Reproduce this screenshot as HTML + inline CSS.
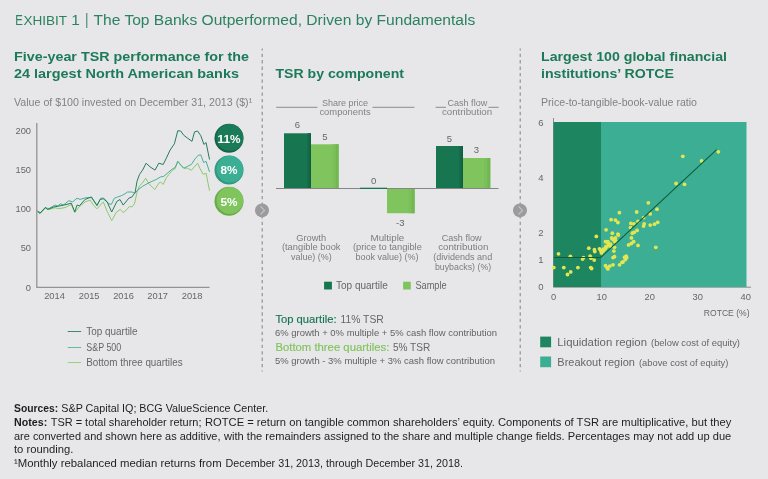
<!DOCTYPE html><html><head><meta charset="utf-8"><title>Exhibit 1</title>
<style>html,body{margin:0;padding:0;background:#e7e7e9}svg{display:block}text{font-family:"Liberation Sans",sans-serif}</style></head><body>
<svg width="768" height="479" viewBox="0 0 768 479">
<rect width="768" height="479" fill="#e7e7e9"/>
<text y="25.2" fill="#2b8260" font-size="14.7"><tspan x="15.2" font-size="14.7" textLength="7.6" lengthAdjust="spacingAndGlyphs">E</tspan><tspan x="23.4" font-size="12.9" textLength="43.6" lengthAdjust="spacingAndGlyphs">XHIBIT</tspan> <tspan x="71.3" font-size="14.9" textLength="8.6" lengthAdjust="spacingAndGlyphs">1</tspan> <tspan x="85.2" y="24.6" font-size="17.4" textLength="3.1" lengthAdjust="spacingAndGlyphs">|</tspan> <tspan x="93.5" y="25.2" textLength="381.8" lengthAdjust="spacingAndGlyphs">The Top Banks Outperformed, Driven by Fundamentals</tspan></text>
<text x="14" y="61.1" font-size="13.7" fill="#1c7a57" font-weight="bold" textLength="235" lengthAdjust="spacingAndGlyphs">Five-year TSR performance for the</text>
<text x="14" y="78.3" font-size="13.7" fill="#1c7a57" font-weight="bold" textLength="225" lengthAdjust="spacingAndGlyphs">24 largest North American banks</text>
<text x="14" y="105.6" font-size="10.6" fill="#828282" textLength="238.2" lengthAdjust="spacingAndGlyphs">Value of $100 invested on December 31, 2013 ($)¹</text>
<path d="M36.8 123 V287.3 H209.5" fill="none" stroke="#939393" stroke-width="1.3"/>
<text x="31" y="134.4" font-size="9.3" fill="#666666" text-anchor="end">200</text>
<text x="31" y="173.4" font-size="9.3" fill="#666666" text-anchor="end">150</text>
<text x="31" y="212.4" font-size="9.3" fill="#666666" text-anchor="end">100</text>
<text x="31" y="251.4" font-size="9.3" fill="#666666" text-anchor="end">50</text>
<text x="31" y="291.09999999999997" font-size="9.3" fill="#666666" text-anchor="end">0</text>
<text x="54.5" y="299.3" font-size="9.3" fill="#666666" text-anchor="middle">2014</text>
<text x="89.2" y="299.3" font-size="9.3" fill="#666666" text-anchor="middle">2015</text>
<text x="123.5" y="299.3" font-size="9.3" fill="#666666" text-anchor="middle">2016</text>
<text x="157.7" y="299.3" font-size="9.3" fill="#666666" text-anchor="middle">2017</text>
<text x="192.1" y="299.3" font-size="9.3" fill="#666666" text-anchor="middle">2018</text>
<path d="M37.5 211.3 L40.0 213.8 L45.4 208.2 L48.8 209.5 L55.1 207.8 L58.8 208.6 L65.1 207.6 L71.3 204.4 L74.8 212.6 L78.9 207.0 L85.1 201.9 L90.1 200.1 L93.9 205.7 L97.0 208.8 L103.3 201.9 L107.1 211.3 L111.7 220.7 L116.5 212.0 L120.2 209.5 L123.3 212.6 L126.9 209.5 L129.4 206.4 L131.9 207.0 L134.4 203.9 L137.0 192.6 L139.5 185.7 L142.6 182.8 L145.7 178.2 L148.9 183.8 L154.8 189.5 L158.8 183.2 L160.7 182.0 L163.2 184.5 L166.3 177.6 L172.6 170.1 L175.1 168.8 L177.8 161.5 L180.7 165.0 L183.8 168.2 L187.6 168.2 L191.4 170.3 L197.6 163.2 L200.1 168.8 L203.3 174.4 L206.1 173.2 L209.5 190.7" fill="none" stroke="#8cc96c" stroke-width="1" stroke-linejoin="round"/>
<path d="M37.5 211.3 L40.6 212.6 L45.4 207.8 L48.8 208.6 L55.1 205.1 L58.2 206.1 L60.1 203.8 L63.8 204.8 L68.8 200.7 L72.6 201.9 L77.0 198.2 L80.1 199.4 L86.4 197.6 L91.4 197.6 L97.0 205.1 L100.8 198.2 L103.9 198.2 L108.9 203.8 L111.4 204.4 L114.4 198.2 L117.5 197.0 L121.3 195.7 L123.8 194.5 L127.6 192.0 L131.9 192.0 L135.1 193.2 L137.6 190.1 L142.6 186.3 L148.9 182.8 L156.3 179.4 L160.7 176.9 L163.8 176.3 L172.6 168.8 L175.1 167.5 L177.8 161.3 L180.7 165.0 L183.8 168.2 L187.6 166.3 L191.4 164.4 L195.1 158.8 L198.2 155.3 L200.8 154.8 L203.6 162.5 L206.1 161.3 L209.5 171.9" fill="none" stroke="#45b098" stroke-width="1" stroke-linejoin="round"/>
<path d="M37.5 211.3 L40.0 213.2 L45.4 207.3 L47.5 209.5 L53.8 207.0 L57.6 206.3 L63.8 205.1 L71.3 203.2 L74.8 212.0 L77.0 205.1 L79.5 205.7 L85.1 199.4 L91.4 196.9 L97.0 205.7 L100.2 199.4 L103.3 198.8 L107.1 201.9 L111.7 212.0 L116.9 201.4 L120.0 199.5 L123.2 205.1 L128.8 198.2 L131.9 197.0 L135.1 192.6 L137.0 181.3 L139.5 174.4 L142.6 170.1 L146.1 163.2 L150.1 166.9 L155.0 170.1 L158.8 163.2 L163.2 164.5 L166.3 158.2 L170.1 150.1 L174.4 143.8 L177.8 130.7 L180.7 131.0 L183.6 135.1 L187.6 138.2 L192.0 141.3 L194.5 131.9 L197.6 131.0 L200.8 135.7 L203.9 144.4 L206.1 142.6 L209.5 159.5" fill="none" stroke="#257d5b" stroke-width="1" stroke-linejoin="round"/>
<circle cx="229" cy="138.3" r="14.5" fill="#136447"/>
<circle cx="229.9" cy="137.4" r="13.4" fill="#1b7b58"/>
<text x="229" y="142.5" font-size="11.8" fill="#ffffff" text-anchor="middle" font-weight="bold">11%</text>
<circle cx="229" cy="170.1" r="14.5" fill="#2e9880"/>
<circle cx="229.9" cy="169.2" r="13.4" fill="#3bae93"/>
<text x="229" y="174.29999999999998" font-size="11.8" fill="#ffffff" text-anchor="middle" font-weight="bold">8%</text>
<circle cx="229" cy="201.3" r="14.5" fill="#68ab4b"/>
<circle cx="229.9" cy="200.4" r="13.4" fill="#80c45e"/>
<text x="229" y="205.5" font-size="11.8" fill="#ffffff" text-anchor="middle" font-weight="bold">5%</text>
<path d="M67.7 331.5 H81.2" stroke="#3f8a6c" stroke-width="1"/>
<text x="86.3" y="334.8" font-size="10" fill="#666666" textLength="51.3" lengthAdjust="spacingAndGlyphs">Top quartile</text>
<path d="M67.7 347.5 H81.2" stroke="#62bba6" stroke-width="1"/>
<text x="86.3" y="350.8" font-size="10" fill="#666666" textLength="34.9" lengthAdjust="spacingAndGlyphs">S&amp;P 500</text>
<path d="M67.7 362.5 H81.2" stroke="#9bd07f" stroke-width="1"/>
<text x="86.3" y="365.8" font-size="10" fill="#666666" textLength="96.3" lengthAdjust="spacingAndGlyphs">Bottom three quartiles</text>
<path d="M262.2 48.5 V371.5" stroke="#868686" stroke-width="1.05" stroke-dasharray="3.3 3.167" stroke-dashoffset="1.32"/>
<circle cx="262" cy="210.4" r="7" fill="#9b9b9b"/>
<path d="M260.5 206.4 l4 4 l-4 4" fill="none" stroke="#c4c4c4" stroke-width="1.2"/>
<path d="M520.2 48.5 V371.5" stroke="#868686" stroke-width="1.05" stroke-dasharray="3.3 3.167" stroke-dashoffset="1.32"/>
<circle cx="520" cy="210.4" r="7" fill="#9b9b9b"/>
<path d="M518.5 206.4 l4 4 l-4 4" fill="none" stroke="#c4c4c4" stroke-width="1.2"/>
<text x="275.4" y="78.3" font-size="13.7" fill="#1c7a57" font-weight="bold" textLength="128.6" lengthAdjust="spacingAndGlyphs">TSR by component</text>
<text x="321.9" y="106" font-size="9.3" fill="#828282" textLength="46.2" lengthAdjust="spacingAndGlyphs">Share price</text>
<text x="319.4" y="115.1" font-size="9.3" fill="#828282" textLength="51.2" lengthAdjust="spacingAndGlyphs">components</text>
<path d="M276.2 107.3 H317.5 M372.5 107.3 H414.4" stroke="#8c8c8c" stroke-width="1"/>
<text x="447.5" y="106" font-size="9.3" fill="#828282" textLength="39.7" lengthAdjust="spacingAndGlyphs">Cash flow</text>
<text x="441.9" y="115.1" font-size="9.3" fill="#828282" textLength="50.3" lengthAdjust="spacingAndGlyphs">contribution</text>
<path d="M435.6 107.3 H446 M488.4 107.3 H498.7" stroke="#8c8c8c" stroke-width="1"/>
<rect x="284" y="133.3" width="27" height="55.6" fill="#17754f"/>
<rect x="307.4" y="133.3" width="3.6" height="55.6" fill="#14694a"/>
<rect x="309.8" y="133.3" width="1.2" height="55.6" fill="#115f40"/>
<rect x="311" y="144.3" width="27.5" height="44.6" fill="#80c45e"/>
<rect x="332.5" y="144.3" width="6" height="44.6" fill="#7bc05a"/>
<rect x="335.7" y="144.3" width="2.8" height="44.6" fill="#71b752"/>
<rect x="360" y="188" width="27" height="0.9" fill="#17754f"/>
<rect x="387" y="188.9" width="27.5" height="24.3" fill="#80c45e"/>
<rect x="408.5" y="188.9" width="6" height="24.3" fill="#7bc05a"/>
<rect x="411.7" y="188.9" width="2.8" height="24.3" fill="#71b752"/>
<rect x="436" y="146" width="27" height="42.9" fill="#17754f"/>
<rect x="459.4" y="146" width="3.6" height="42.9" fill="#14694a"/>
<rect x="461.8" y="146" width="1.2" height="42.9" fill="#115f40"/>
<rect x="463" y="158" width="27.2" height="30.9" fill="#80c45e"/>
<rect x="484.2" y="158" width="6" height="30.9" fill="#7bc05a"/>
<rect x="487.4" y="158" width="2.8" height="30.9" fill="#71b752"/>
<path d="M276 188.5 H498.5" stroke="#858585" stroke-width="1"/>
<rect x="360" y="187.7" width="27" height="1.3" fill="#17754f"/>
<text x="297.5" y="128" font-size="9.5" fill="#666666" text-anchor="middle">6</text>
<text x="325" y="140" font-size="9.5" fill="#666666" text-anchor="middle">5</text>
<text x="373.6" y="184" font-size="9.5" fill="#666666" text-anchor="middle">0</text>
<text x="400.3" y="226" font-size="9.5" fill="#666666" text-anchor="middle">-3</text>
<text x="449.3" y="142" font-size="9.5" fill="#666666" text-anchor="middle">5</text>
<text x="476.5" y="153" font-size="9.5" fill="#666666" text-anchor="middle">3</text>
<text x="296.2" y="240.5" font-size="9.3" fill="#7c7c7c" textLength="29.9" lengthAdjust="spacingAndGlyphs">Growth</text>
<text x="281.9" y="250.2" font-size="9.3" fill="#7c7c7c" textLength="58.6" lengthAdjust="spacingAndGlyphs">(tangible book</text>
<text x="291" y="260" font-size="9.3" fill="#7c7c7c" textLength="40.7" lengthAdjust="spacingAndGlyphs">value) (%)</text>
<text x="370.5" y="240.5" font-size="9.3" fill="#7c7c7c" textLength="33.8" lengthAdjust="spacingAndGlyphs">Multiple</text>
<text x="352.9" y="250.2" font-size="9.3" fill="#7c7c7c" textLength="69" lengthAdjust="spacingAndGlyphs">(price to tangible</text>
<text x="355.5" y="260" font-size="9.3" fill="#7c7c7c" textLength="63.1" lengthAdjust="spacingAndGlyphs">book value) (%)</text>
<text x="441.8" y="240.5" font-size="9.3" fill="#7c7c7c" textLength="39.7" lengthAdjust="spacingAndGlyphs">Cash flow</text>
<text x="438.2" y="250.2" font-size="9.3" fill="#7c7c7c" textLength="50.1" lengthAdjust="spacingAndGlyphs">contribution</text>
<text x="433.3" y="260" font-size="9.3" fill="#7c7c7c" textLength="58.9" lengthAdjust="spacingAndGlyphs">(dividends and</text>
<text x="434.9" y="269.8" font-size="9.3" fill="#7c7c7c" textLength="56.3" lengthAdjust="spacingAndGlyphs">buybacks) (%)</text>
<rect x="324.1" y="281.7" width="7.8" height="7.8" fill="#17754f"/>
<text x="336" y="289" font-size="10" fill="#666666">Top quartile</text>
<rect x="403.1" y="281.7" width="7.7" height="7.8" fill="#80c45e"/>
<text x="415.4" y="289" font-size="10" fill="#666666" textLength="31.3" lengthAdjust="spacingAndGlyphs">Sample</text>
<text x="275.4" y="322.5" font-size="11.2" fill="#17754f" textLength="61.2" lengthAdjust="spacingAndGlyphs" stroke="#17754f" stroke-width="0.15">Top quartile:</text>
<text x="340.5" y="322.5" font-size="11.2" fill="#666666" textLength="43.3" lengthAdjust="spacingAndGlyphs">11% TSR</text>
<text x="275" y="336" font-size="9.6" fill="#626262" textLength="222" lengthAdjust="spacingAndGlyphs">6% growth + 0% multiple + 5% cash flow contribution</text>
<text x="275.4" y="351" font-size="11.2" fill="#80c45e" textLength="113.9" lengthAdjust="spacingAndGlyphs" stroke="#80c45e" stroke-width="0.15">Bottom three quartiles:</text>
<text x="392.9" y="351" font-size="11.2" fill="#666666" textLength="37.4" lengthAdjust="spacingAndGlyphs">5% TSR</text>
<text x="275" y="364.3" font-size="9.6" fill="#626262" textLength="220" lengthAdjust="spacingAndGlyphs">5% growth - 3% multiple + 3% cash flow contribution</text>
<text x="541" y="61.1" font-size="13.7" fill="#1c7a57" font-weight="bold" textLength="186" lengthAdjust="spacingAndGlyphs">Largest 100 global financial</text>
<text x="541" y="78.3" font-size="13.7" fill="#1c7a57" font-weight="bold" textLength="133" lengthAdjust="spacingAndGlyphs">institutions’ ROTCE</text>
<text x="541" y="105.6" font-size="10.6" fill="#828282" textLength="156" lengthAdjust="spacingAndGlyphs">Price-to-tangible-book-value ratio</text>
<path d="M553.5 118 V287.2 H751" fill="none" stroke="#8c8c8c" stroke-width="1"/>
<rect x="553.5" y="122" width="47.5" height="165" fill="#1d8560"/>
<rect x="601" y="122" width="145.5" height="165" fill="#3bae93"/>
<text x="541" y="126.0" font-size="9.5" fill="#666666" text-anchor="middle">6</text>
<text x="541" y="180.5" font-size="9.5" fill="#666666" text-anchor="middle">4</text>
<text x="541" y="235.5" font-size="9.5" fill="#666666" text-anchor="middle">2</text>
<text x="541" y="262.5" font-size="9.5" fill="#666666" text-anchor="middle">1</text>
<text x="541" y="290.0" font-size="9.5" fill="#666666" text-anchor="middle">0</text>
<text x="553.7" y="300.2" font-size="9.3" fill="#666666" text-anchor="middle">0</text>
<text x="601.7" y="300.2" font-size="9.3" fill="#666666" text-anchor="middle">10</text>
<text x="649.7" y="300.2" font-size="9.3" fill="#666666" text-anchor="middle">20</text>
<text x="697.7" y="300.2" font-size="9.3" fill="#666666" text-anchor="middle">30</text>
<text x="745.7" y="300.2" font-size="9.3" fill="#666666" text-anchor="middle">40</text>
<text x="749.5" y="315.9" font-size="9.3" fill="#666666" text-anchor="end" textLength="45.7" lengthAdjust="spacingAndGlyphs">ROTCE (%)</text>
<circle cx="553.8" cy="267.6" r="1.9" fill="#e4e651"/>
<circle cx="558.5" cy="253.9" r="1.9" fill="#e4e651"/>
<circle cx="563.8" cy="267.6" r="1.9" fill="#e4e651"/>
<circle cx="567.5" cy="274.5" r="1.9" fill="#e4e651"/>
<circle cx="570.7" cy="271.9" r="1.9" fill="#e4e651"/>
<circle cx="570.4" cy="256.3" r="1.9" fill="#e4e651"/>
<circle cx="577.9" cy="267.6" r="1.9" fill="#e4e651"/>
<circle cx="582.6" cy="259.1" r="1.9" fill="#e4e651"/>
<circle cx="583.5" cy="257.6" r="1.9" fill="#e4e651"/>
<circle cx="588.8" cy="248.2" r="1.9" fill="#e4e651"/>
<circle cx="590.1" cy="256.1" r="1.9" fill="#e4e651"/>
<circle cx="591.0" cy="258.2" r="1.9" fill="#e4e651"/>
<circle cx="594.2" cy="260.1" r="1.9" fill="#e4e651"/>
<circle cx="590.7" cy="267.6" r="1.9" fill="#e4e651"/>
<circle cx="591.6" cy="268.5" r="1.9" fill="#e4e651"/>
<circle cx="594.4" cy="249.7" r="1.9" fill="#e4e651"/>
<circle cx="594.8" cy="251.6" r="1.9" fill="#e4e651"/>
<circle cx="596.3" cy="236.4" r="1.9" fill="#e4e651"/>
<circle cx="599.5" cy="248.8" r="1.9" fill="#e4e651"/>
<circle cx="600.8" cy="250.5" r="1.9" fill="#e4e651"/>
<circle cx="601.4" cy="252.9" r="1.9" fill="#e4e651"/>
<circle cx="603.2" cy="251.1" r="1.9" fill="#e4e651"/>
<circle cx="604.7" cy="249.2" r="1.9" fill="#e4e651"/>
<circle cx="606.1" cy="246.4" r="1.9" fill="#e4e651"/>
<circle cx="605.5" cy="241.7" r="1.9" fill="#e4e651"/>
<circle cx="607.9" cy="241.7" r="1.9" fill="#e4e651"/>
<circle cx="609.4" cy="244.5" r="1.9" fill="#e4e651"/>
<circle cx="610.8" cy="246.4" r="1.9" fill="#e4e651"/>
<circle cx="611.7" cy="237.9" r="1.9" fill="#e4e651"/>
<circle cx="613.6" cy="239.8" r="1.9" fill="#e4e651"/>
<circle cx="612.3" cy="233.2" r="1.9" fill="#e4e651"/>
<circle cx="615.4" cy="237.9" r="1.9" fill="#e4e651"/>
<circle cx="614.9" cy="241.7" r="1.9" fill="#e4e651"/>
<circle cx="617.9" cy="234.1" r="1.9" fill="#e4e651"/>
<circle cx="618.3" cy="235.1" r="1.9" fill="#e4e651"/>
<circle cx="606.1" cy="229.8" r="1.9" fill="#e4e651"/>
<circle cx="611.1" cy="219.7" r="1.9" fill="#e4e651"/>
<circle cx="615.4" cy="220.1" r="1.9" fill="#e4e651"/>
<circle cx="617.9" cy="222.5" r="1.9" fill="#e4e651"/>
<circle cx="619.4" cy="212.7" r="1.9" fill="#e4e651"/>
<circle cx="614.5" cy="247.3" r="1.9" fill="#e4e651"/>
<circle cx="613.9" cy="251.1" r="1.9" fill="#e4e651"/>
<circle cx="613.0" cy="257.6" r="1.9" fill="#e4e651"/>
<circle cx="614.5" cy="256.7" r="1.9" fill="#e4e651"/>
<circle cx="605.5" cy="265.7" r="1.9" fill="#e4e651"/>
<circle cx="607.0" cy="267.6" r="1.9" fill="#e4e651"/>
<circle cx="607.9" cy="268.9" r="1.9" fill="#e4e651"/>
<circle cx="609.8" cy="266.1" r="1.9" fill="#e4e651"/>
<circle cx="613.0" cy="264.8" r="1.9" fill="#e4e651"/>
<circle cx="619.6" cy="264.8" r="1.9" fill="#e4e651"/>
<circle cx="622.0" cy="262.3" r="1.9" fill="#e4e651"/>
<circle cx="623.0" cy="262.0" r="1.9" fill="#e4e651"/>
<circle cx="625.4" cy="259.5" r="1.9" fill="#e4e651"/>
<circle cx="626.2" cy="256.1" r="1.9" fill="#e4e651"/>
<circle cx="626.7" cy="257.6" r="1.9" fill="#e4e651"/>
<circle cx="628.6" cy="244.9" r="1.9" fill="#e4e651"/>
<circle cx="631.4" cy="243.5" r="1.9" fill="#e4e651"/>
<circle cx="633.7" cy="241.7" r="1.9" fill="#e4e651"/>
<circle cx="638.0" cy="245.4" r="1.9" fill="#e4e651"/>
<circle cx="631.4" cy="237.9" r="1.9" fill="#e4e651"/>
<circle cx="632.4" cy="233.2" r="1.9" fill="#e4e651"/>
<circle cx="634.2" cy="232.3" r="1.9" fill="#e4e651"/>
<circle cx="637.1" cy="230.4" r="1.9" fill="#e4e651"/>
<circle cx="630.5" cy="227.6" r="1.9" fill="#e4e651"/>
<circle cx="630.9" cy="223.4" r="1.9" fill="#e4e651"/>
<circle cx="633.9" cy="223.8" r="1.9" fill="#e4e651"/>
<circle cx="638.0" cy="221.4" r="1.9" fill="#e4e651"/>
<circle cx="636.7" cy="212.0" r="1.9" fill="#e4e651"/>
<circle cx="643.6" cy="217.6" r="1.9" fill="#e4e651"/>
<circle cx="644.2" cy="223.8" r="1.9" fill="#e4e651"/>
<circle cx="643.6" cy="226.1" r="1.9" fill="#e4e651"/>
<circle cx="648.3" cy="202.8" r="1.9" fill="#e4e651"/>
<circle cx="650.2" cy="213.9" r="1.9" fill="#e4e651"/>
<circle cx="650.2" cy="225.1" r="1.9" fill="#e4e651"/>
<circle cx="654.5" cy="224.2" r="1.9" fill="#e4e651"/>
<circle cx="657.7" cy="222.3" r="1.9" fill="#e4e651"/>
<circle cx="657.0" cy="209.2" r="1.9" fill="#e4e651"/>
<circle cx="655.8" cy="247.3" r="1.9" fill="#e4e651"/>
<circle cx="676.1" cy="183.5" r="1.9" fill="#e4e651"/>
<circle cx="684.5" cy="184.3" r="1.9" fill="#e4e651"/>
<circle cx="682.8" cy="156.3" r="1.9" fill="#e4e651"/>
<circle cx="701.6" cy="160.9" r="1.9" fill="#e4e651"/>
<circle cx="718.3" cy="151.8" r="1.9" fill="#e4e651"/>
<circle cx="608.3" cy="245.7" r="1.9" fill="#e4e651"/>
<circle cx="603.6" cy="249.1" r="1.9" fill="#e4e651"/>
<circle cx="615.8" cy="241.0" r="1.9" fill="#e4e651"/>
<circle cx="607.6" cy="242.3" r="1.9" fill="#e4e651"/>
<circle cx="612.4" cy="238.9" r="1.9" fill="#e4e651"/>
<circle cx="624.6" cy="257.2" r="1.9" fill="#e4e651"/>
<circle cx="606.0" cy="247.5" r="1.9" fill="#e4e651"/>
<circle cx="610.5" cy="244.2" r="1.9" fill="#e4e651"/>
<circle cx="601.5" cy="251.5" r="1.9" fill="#e4e651"/>
<path d="M554 257.4 H600.8 L716.6 149.7" fill="none" stroke="#0d5e3b" stroke-width="1.05"/>
<rect x="540.2" y="336.6" width="10.9" height="10.7" fill="#1d8560"/>
<text x="557.3" y="346" font-size="11.6" fill="#666666" textLength="89.7" lengthAdjust="spacingAndGlyphs">Liquidation region</text>
<text x="651" y="346" font-size="9.4" fill="#666666" textLength="89" lengthAdjust="spacingAndGlyphs">(below cost of equity)</text>
<rect x="540.2" y="356.5" width="10.9" height="10.7" fill="#3bae93"/>
<text x="557.3" y="366" font-size="11.6" fill="#666666" textLength="77.6" lengthAdjust="spacingAndGlyphs">Breakout region</text>
<text x="639" y="366" font-size="9.4" fill="#666666" textLength="89.3" lengthAdjust="spacingAndGlyphs">(above cost of equity)</text>
<text y="412.2" font-size="10.5" fill="#1e1e1e"><tspan x="14" font-weight="bold" textLength="44.2" lengthAdjust="spacingAndGlyphs">Sources:</tspan> <tspan x="61.3" textLength="206.9" lengthAdjust="spacingAndGlyphs">S&amp;P Capital IQ; BCG ValueScience Center.</tspan></text>
<text y="425.9" font-size="10.5" fill="#1e1e1e"><tspan x="14" font-weight="bold" textLength="33.2" lengthAdjust="spacingAndGlyphs">Notes:</tspan> <tspan x="50.7" textLength="150.8" lengthAdjust="spacingAndGlyphs">TSR = total shareholder return;</tspan> <tspan x="205" textLength="526.3" lengthAdjust="spacingAndGlyphs">ROTCE = return on tangible common shareholders’ equity. Components of TSR are multiplicative, but they</tspan></text>
<text y="439.5" font-size="10.5" fill="#1e1e1e"><tspan x="14" textLength="206.5" lengthAdjust="spacingAndGlyphs">are converted and shown here as additive,</tspan> <tspan x="224" textLength="507.3" lengthAdjust="spacingAndGlyphs">with the remainders assigned to the share and multiple change fields. Percentages may not add up due</tspan></text>
<text x="14" y="453.1" font-size="10.5" fill="#1e1e1e" textLength="59.4" lengthAdjust="spacingAndGlyphs">to rounding.</text>
<text y="466.7" font-size="10.5" fill="#1e1e1e"><tspan x="14" textLength="207.6" lengthAdjust="spacingAndGlyphs">¹Monthly rebalanced median returns from</tspan> <tspan x="225.6" textLength="237.3" lengthAdjust="spacingAndGlyphs">December 31, 2013, through December 31, 2018.</tspan></text>
</svg></body></html>
